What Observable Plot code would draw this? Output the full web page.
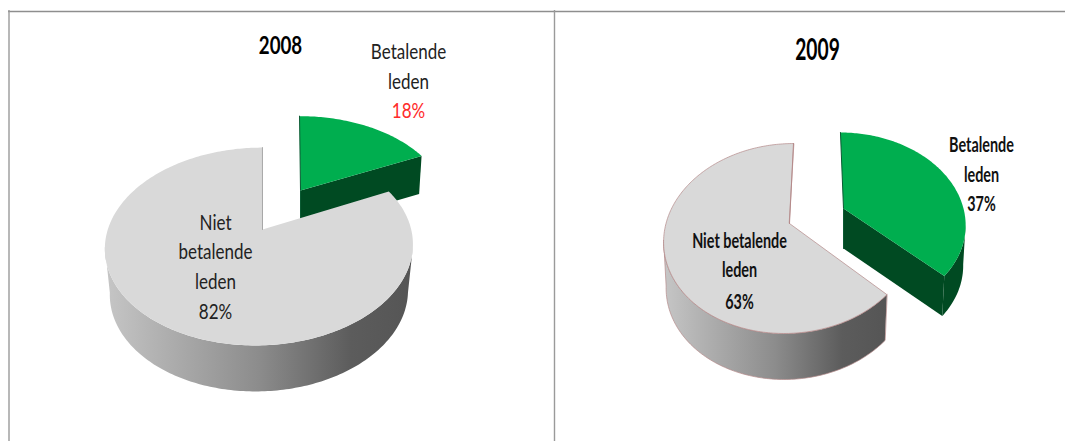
<!DOCTYPE html>
<html lang="nl">
<head>
<meta charset="utf-8">
<script src="https://cdn.jsdelivr.net/npm/d3@7"></script>
<script src="https://cdn.jsdelivr.net/npm/@observablehq/plot@0.6"></script>
<style>
html,body{margin:0;padding:0;background:#fff;overflow:hidden}
svg{display:block}
</style>
</head>
<body>
<div id="chart"></div>
<script>
// Values
const years = ["2008", "2009"];
const categories = ["Betalende leden", "Niet betalende leden"];
const paying = [18, 37];
const nonPaying = [82, 63];

// Label lines
const labelRows2008 = [["Betalende", 408, 52], ["leden", 408, 82]];
const labelValue2008 = [["18%", 408, 111]];
const labelRowsOther2008 = [["Niet", 215, 223], ["betalende", 215, 252], ["leden", 215, 282], ["82%", 215, 312]];
const labelRows2009 = [
  ["Niet betalende", 739, 241], ["leden", 739, 270], ["63%", 739, 302],
  ["Betalende", 981, 145], ["leden", 981, 175], ["37%", 981, 204]
];

// Layout of the perspective discs
const discs = {
  grey2008:  {cx: 259, cy: 229, rx: 151.7, ry: 96, k: .172, skew: -.036, tipDx: 3, depth: 46, shrink: .968},
  green2008: {cx: 300, cy: 190, rx: 144, ry: 87, k: .17, skew: .013, tipDx: 0, depth: 38, shrink: .98},
  grey2009:  {cx: 789, cy: 223, rx: 123.5, ry: 92.6, k: .158, skew: -.05, tipDx: 0, depth: 46, shrink: .98},
  green2009: {cx: 843, cy: 208, rx: 120, ry: 88, k: .158, skew: .04, tipDx: 0, depth: 40, shrink: .98}
};
const GREEN = "#00ae4f", DARK = "#004a22", TOP = "#d9d9d9";

const project = (d, deg, lower = false) => {
  const t = deg * Math.PI / 180, u = Math.sin(t), v = Math.cos(t), w = 1 + d.k * v;
  const dy = -d.ry * v / w, dx = d.rx * u / w + d.skew * dy, s = lower ? d.shrink : 1;
  return {x: d.cx + dx * s, y: d.cy + dy + (lower ? d.depth : 0)};
};
const tip = (d, lower = false) => ({x: d.cx + d.tipDx, y: d.cy + (lower ? d.depth : 0)});
const arc = (d, a, b, lower = false) => {
  const n = Math.ceil(Math.abs(b - a));
  return d3.range(n + 1).map(i => project(d, a + (b - a) * i / n, lower));
};
const poly = (points, o) => Plot.line(points, {x: "x", y: "y", curve: "linear-closed", stroke: "none", ...o});
const edge = (points, o) => Plot.line(points, {x: "x", y: "y", ...o});

const squeeze = sx => function (index, scales, values, dims, ctx, next) {
  const g = next(index, scales, values, dims, ctx);
  g.querySelectorAll("text").forEach(t => t.setAttribute("transform", `${t.getAttribute("transform") || ""} scale(${sx},1)`));
  return g;
};
const label = (rows, o, sx) => Plot.text(rows, {
  x: "1", y: "2", text: "0", textAnchor: "middle", lineAnchor: "middle",
  fontFamily: "Lato", render: squeeze(sx), ...o
});

const defs = () => {
  const d = d3.create("svg:defs");
  const g = d.append("linearGradient").attr("id", "sideGrey");
  [[0, "#c6c6c6"], [.15, "#b4b4b4"], [.5, "#8c8c8c"], [.8, "#5c5c5c"], [1, "#555555"]]
    .forEach(([o, c]) => g.append("stop").attr("offset", o).attr("stop-color", c));
  return d.node();
};

const pieMarks = (i, gd, nd, outline) => {
  const split = paying[i] * 3.6;
  const rightEdge = 100, leftEdge = 260; // where the rim silhouette meets the top face
  const greenTop = [tip(gd), ...arc(gd, 0, split)];
  const greyTop = [tip(nd), ...arc(nd, split, 360)];
  const greyFrom = Math.max(split, rightEdge);
  const greySide = [...arc(nd, greyFrom, leftEdge), ...arc(nd, leftEdge, greyFrom, true)];
  const face = [tip(gd), project(gd, split), project(gd, split, true), tip(gd, true)];
  const marks = [poly(face, {fill: DARK})];
  if (split > rightEdge) {
    marks.push(poly([...arc(gd, rightEdge, split), ...arc(gd, split, rightEdge, true)], {fill: DARK}));
  }
  marks.push(
    poly(greenTop, {fill: GREEN}),
    edge([project(gd, 0), tip(gd), tip(gd, true)], {stroke: "#0b5a33", strokeWidth: 1}),
    poly(greySide, {fill: "url(#sideGrey)", stroke: outline, strokeWidth: outline === "none" ? 0 : .7}),
    poly(greyTop, {fill: TOP, stroke: outline, strokeWidth: outline === "none" ? 0 : .7}),
    edge([project(nd, 360), tip(nd)], {stroke: outline === "none" ? "#a8a8a8" : outline, strokeWidth: 1})
  );
  return marks;
};

const frameLeft = [8.5], frameMiddle = [554], frameTop = [11];

const chart = Plot.plot({
  width: 1065, height: 441,
  margin: 0,
  x: {domain: [0, 1065], range: [0, 1065], axis: null},
  y: {domain: [0, 441], range: [0, 441], axis: null},
  style: {background: "#fff"},
  marks: [
    defs,
    Plot.ruleY(frameTop, {x1: 8, x2: 1065, stroke: "#8e8e8e", strokeWidth: 1.6}),
    Plot.ruleX(frameLeft, {y1: 10, y2: 441, stroke: "#9a9a9a", strokeWidth: 1.4}),
    Plot.ruleX(frameMiddle, {y1: 10, y2: 441, stroke: "#9a9a9a", strokeWidth: 1.4}),
    ...pieMarks(0, discs.green2008, discs.grey2008, "none"),
    ...pieMarks(1, discs.green2009, discs.grey2009, "#b58a8a"),
    label([[years[0], 280, 46]], {fontSize: 24, fontWeight: 700, fill: "#000"}, .78),
    label([[years[1], 817, 50]], {fontSize: 31, fontWeight: 700, fill: "#000"}, .62),
    label(labelRows2008, {fontSize: 21, fill: "#222"}, .81),
    label(labelValue2008, {fontSize: 21, fill: "#ff2a2a"}, .81),
    label(labelRowsOther2008, {fontSize: 21, fill: "#222"}, .81),
    label(labelRows2009, {fontSize: 20, fontWeight: 700, fill: "#111"}, .72)
  ]
});
document.getElementById("chart").append(chart);
</script>
</body>
</html>
